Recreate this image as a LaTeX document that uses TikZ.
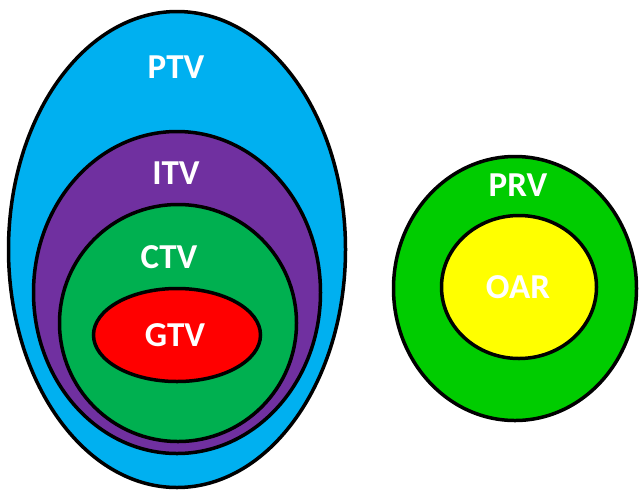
\documentclass[tikz,border=0pt]{standalone}
\usepackage{fontspec}
\setmainfont{Carlito}
\usetikzlibrary{shapes.geometric}
\definecolor{ptvblue}{HTML}{00B0F0}
\definecolor{itvpurple}{HTML}{7030A0}
\definecolor{ctvgreen}{HTML}{00B050}
\definecolor{gtvred}{HTML}{FF0000}
\definecolor{prvgreen}{HTML}{00CC00}
\definecolor{oaryellow}{HTML}{FFFF00}
\tikzset{
  volume/.style={ellipse, draw=black, line width=3.5pt, inner sep=0pt},
  tag/.style={text=white, font=\fontsize{35}{35}\selectfont\bfseries, inner sep=0pt}
}
\begin{document}
\begin{tikzpicture}[x=1pt, y=-1pt]
\useasboundingbox (0,0) rectangle (639,491);
% nested target volumes
\node[volume, fill=ptvblue, minimum width=337pt, minimum height=476pt] (ptv) at (177,249.5) {};
\node[volume, fill=itvpurple, minimum width=287pt, minimum height=322pt] (itv) at (177,292.5) {};
\node[volume, fill=ctvgreen, minimum width=237pt, minimum height=237pt] (ctv) at (178,323) {};
\node[volume, fill=gtvred, minimum width=167pt, minimum height=93pt] (gtv) at (177,335) {};
% organ at risk with its planning margin
\node[volume, fill=prvgreen, minimum width=243pt, minimum height=264pt] (prv) at (515,288.5) {};
\node[volume, fill=oaryellow, minimum width=155pt, minimum height=143pt] (oar) at (519,287) {};
% labels
\node[tag] (ptvlabel) at (176,67) {PTV};
\node[tag] (itvlabel) at (176,173) {ITV};
\node[tag] (ctvlabel) at (169,257) {CTV};
\node[tag] (gtvlabel) at (175,335) {GTV};
\node[tag] (prvlabel) at (518,185) {PRV};
\node[tag] (oarlabel) at (518,287) {OAR};
\end{tikzpicture}
\end{document}
